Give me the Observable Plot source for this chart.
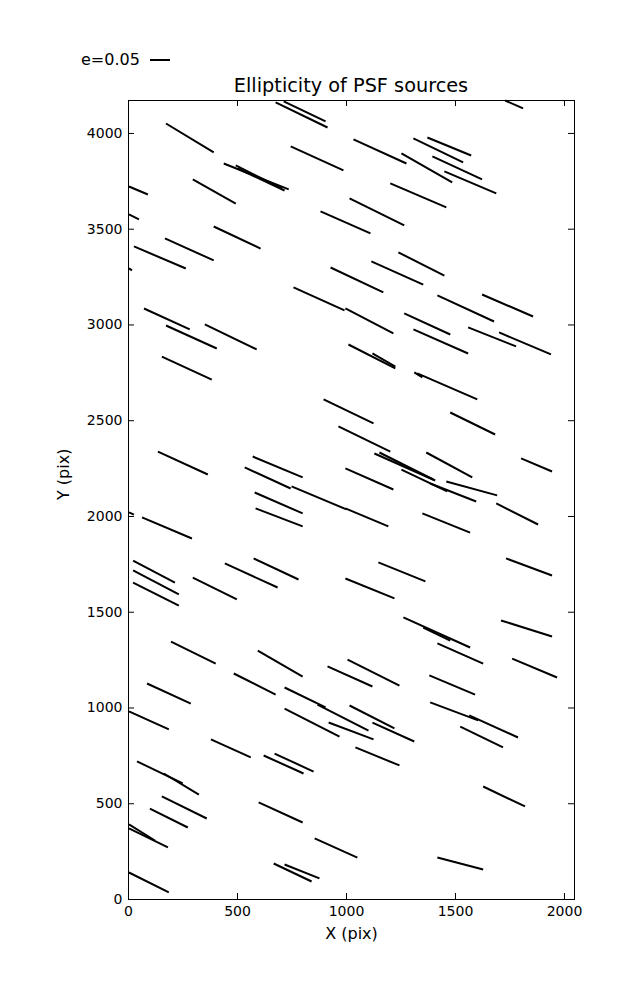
<!DOCTYPE html>
<html>
<head>
<meta charset="utf-8">
<script src="https://cdn.jsdelivr.net/npm/d3@7"></script>
<script src="https://cdn.jsdelivr.net/npm/@observablehq/plot@0.6"></script>
<style>
  html, body { margin: 0; padding: 0; background: white; }
  #wrap { position: relative; width: 637px; height: 1000px; font-family: "DejaVu Sans", sans-serif; color: black; }
  #title { position: absolute; left: 128px; width: 446px; top: 74px; text-align: center; font-size: 19.3px; line-height: 24px; }
  #legend { position: absolute; left: 81px; top: 49px; font-size: 16px; line-height: 22px; display: flex; align-items: center; }
  #legend span.swatch { display: inline-block; width: 20px; height: 2px; background: black; margin-left: 10px; }
  #chart { position: absolute; left: 0; top: 0; }
</style>
</head>
<body>
<div id="wrap">
  <div id="chart"></div>
  <div id="legend"><span>e=0.05</span><span class="swatch"></span></div>
  <div id="title">Ellipticity of PSF sources</div>
</div>
<script>
// Whisker segments (data units: pixels on the detector)
const x1 = [675,712,172,744,437,492,501,2,295,2,881,391,167,25,2,927,757,1728,1032,1307,1371,1252,1394,1449,1201,1014,1238,1114,1417,1622,71,172,350,153,1009,1119,895,963,135,570,533,748,579,995,1265,1307,1558,1700,1325,1311,1476,1801,1366,1128,1151,1252,1458,1384,995,583,2,62,21,21,21,295,442,574,995,195,593,483,85,716,913,1005,1687,995,1348,1732,1146,1261,1352,1417,1709,1760,1380,2,867,918,716,378,620,670,39,162,153,98,597,2,2,854,666,716,2,1384,1563,1522,1627,1417,1014,1119,1041];
const y1 = [4162,4167,4052,3932,3843,3833,3817,3723,3760,3577,3593,3514,3452,3410,3295,3300,3196,4172,3969,3974,3979,3896,3880,3802,3739,3661,3379,3332,3154,3159,3086,2997,3003,2835,2898,2851,2611,2470,2339,2313,2256,2157,2125,3086,3060,2977,2987,2961,2747,2752,2543,2303,2334,2329,2334,2245,2183,2172,2251,2042,2021,1995,1770,1718,1655,1681,1755,1781,1676,1347,1300,1180,1128,1107,1217,1253,2068,2042,2016,1781,1760,1473,1420,1337,1457,1258,1170,982,1018,924,997,836,752,762,721,658,538,475,507,392,371,319,188,183,141,1029,961,903,590,219,1013,924,794];
const x2 = [913,904,391,986,735,703,716,89,492,48,1110,606,391,263,16,1169,991,1810,1275,1535,1572,1485,1622,1687,1458,1265,1449,1352,1677,1856,281,405,588,382,1224,1224,1124,1201,364,799,744,1000,799,1215,1476,1558,1778,1938,1600,1348,1682,1943,1577,1407,1398,1462,1691,1595,1215,799,25,291,213,231,231,497,684,780,1220,400,799,675,286,904,1119,1243,1879,1192,1567,1943,1362,1567,1476,1627,1943,1966,1590,185,1101,1124,968,561,803,849,249,323,359,272,799,121,181,1050,840,876,185,1604,1787,1718,1819,1627,1220,1311,1243];
const y2 = [4031,4063,3901,3807,3708,3713,3702,3681,3634,3551,3478,3399,3337,3295,3285,3170,3076,4131,3843,3849,3885,3744,3760,3687,3614,3520,3258,3211,3018,3044,2977,2877,2872,2715,2773,2783,2486,2339,2219,2204,2146,2037,2016,2956,2950,2851,2888,2846,2611,2726,2428,2235,2204,2188,2193,2131,2110,2078,2141,1948,2010,1885,1655,1593,1535,1567,1629,1671,1572,1232,1164,1070,1023,1003,1112,1117,1958,1948,1916,1692,1661,1316,1352,1232,1373,1159,1070,888,882,836,851,742,658,668,606,548,423,376,402,308,272,219,94,110,37,935,846,794,486,157,893,825,700];

const xTicks = [0, 500, 1000, 1500, 2000];
const yTicks = [0, 500, 1000, 1500, 2000, 2500, 3000, 3500, 4000];

const segs = x1.map((d, i) => ({x1: d, y1: y1[i], x2: x2[i], y2: y2[i]}));

const W = 637, H = 1000, mL = 128, mR = 63, mT = 100, mB = 101;
const innerW = W - mL - mR, innerH = H - mT - mB, tk = 6;
const fmt = d3.format("d");

const chart = Plot.plot({
  width: W, height: H,
  marginLeft: mL, marginRight: mR, marginTop: mT, marginBottom: mB,
  style: {fontFamily: "DejaVu Sans, sans-serif", fontSize: "14px", color: "black", background: "transparent", overflow: "visible"},
  x: {domain: [0, 2046]},
  y: {domain: [0, 4172]},
  marks: [
    Plot.axisX(xTicks, {tickSize: 0, tickPadding: 7, fontSize: 14, label: null, fill: "black", tickFormat: fmt}),
    Plot.axisY(yTicks, {tickSize: 0, tickPadding: 6, fontSize: 14, label: null, fill: "black", tickFormat: fmt}),
    Plot.tickX(xTicks, {x: d => d, insetTop: innerH - tk, stroke: "black", strokeWidth: 1}),
    Plot.tickX(xTicks, {x: d => d, insetBottom: innerH - tk, stroke: "black", strokeWidth: 1}),
    Plot.tickY(yTicks, {y: d => d, insetRight: innerW - tk, stroke: "black", strokeWidth: 1}),
    Plot.tickY(yTicks, {y: d => d, insetLeft: innerW - tk, stroke: "black", strokeWidth: 1}),
    Plot.link(segs, {x1: "x1", y1: "y1", x2: "x2", y2: "y2", stroke: "black", strokeWidth: 2}),
    Plot.frame({stroke: "black", strokeWidth: 1}),
    Plot.text(["X (pix)"], {frameAnchor: "bottom", dy: 39, fontSize: 16, fill: "black"}),
    Plot.text(["Y (pix)"], {frameAnchor: "left", dx: -65, rotate: -90, fontSize: 16, fill: "black"})
  ]
});
document.getElementById("chart").appendChild(chart);
</script>
</body>
</html>
